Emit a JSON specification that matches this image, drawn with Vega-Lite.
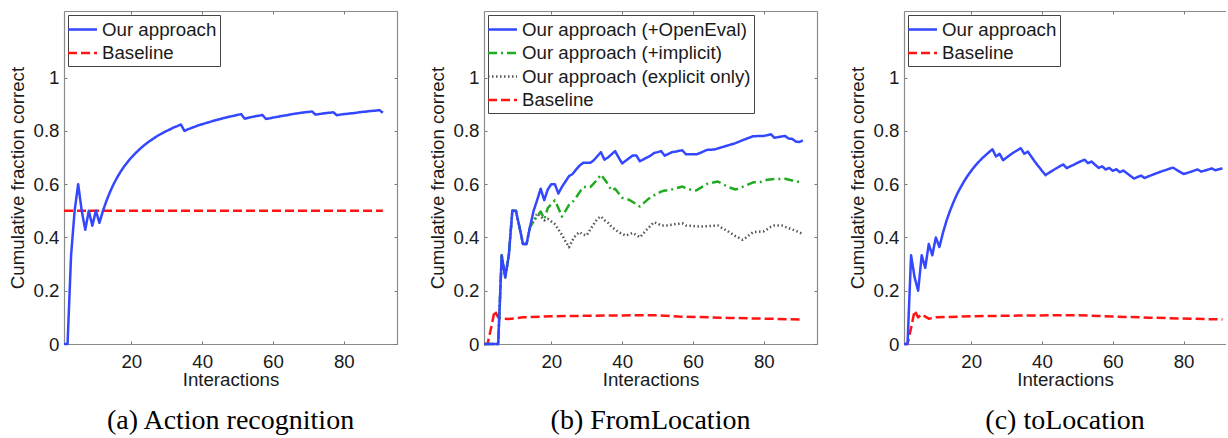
{
"$schema": "https://vega.github.io/schema/vega-lite/v6.json",
"background": "white",
"padding": {"left": 8, "top": 10, "right": 0, "bottom": 0},
"spacing": 30,
"resolve": {"scale": {"color": "independent", "strokeDash": "independent", "strokeWidth": "independent"}, "legend": {"color": "independent", "strokeDash": "independent", "strokeWidth": "independent"}},
"config": {
  "view": {"stroke": null},
  "axis": {"grid": false, "labelFont": "Liberation Sans", "labelFontSize": 18.7, "labelColor": "#1a1a1a", "titleFont": "Liberation Sans", "titleFontSize": 18.7, "titleFontWeight": "normal", "titleColor": "#1a1a1a", "tickSize": -3, "tickColor": "#777", "domainColor": "#8a8a8a", "domainWidth": 1.2, "labelFlush": false, "labelOverlap": false},
  "axisX": {"labelPadding": 11, "titlePadding": 0},
  "axisY": {"labelPadding": 8, "titlePadding": 6},
  "legend": {"orient": "top-left", "offset": 4, "strokeColor": "#444", "fillColor": "white", "padding": 3, "labelFont": "Liberation Sans", "labelFontSize": 18.7, "labelColor": "#1a1a1a", "symbolType": "M-1.45,0L1.45,0", "symbolSize": 400, "symbolStrokeWidth": 2.5, "symbolFillColor": "transparent", "rowPadding": 1.5, "labelLimit": 400, "labelOffset": 8, "cornerRadius": 0},
  "title": {"orient": "bottom", "font": "Liberation Serif", "fontSize": 28, "fontWeight": "normal", "color": "black", "offset": 18, "anchor": "middle"}
},
"datasets": {
"a": [
{"series":"Baseline","x":1,"y":0.5},{"series":"Baseline","x":91,"y":0.5},
{"series":"Our approach","x":1,"y":0},{"series":"Our approach","x":2,"y":0},{"series":"Our approach","x":3,"y":0.333},{"series":"Our approach","x":4,"y":0.5},{"series":"Our approach","x":5,"y":0.6},{"series":"Our approach","x":6,"y":0.5},{"series":"Our approach","x":7,"y":0.429},{"series":"Our approach","x":8,"y":0.5},{"series":"Our approach","x":9,"y":0.444},{"series":"Our approach","x":10,"y":0.5},{"series":"Our approach","x":11,"y":0.455},{"series":"Our approach","x":12,"y":0.5},{"series":"Our approach","x":13,"y":0.538},{"series":"Our approach","x":14,"y":0.571},{"series":"Our approach","x":15,"y":0.6},{"series":"Our approach","x":16,"y":0.625},{"series":"Our approach","x":17,"y":0.647},{"series":"Our approach","x":18,"y":0.667},{"series":"Our approach","x":19,"y":0.684},{"series":"Our approach","x":20,"y":0.7},{"series":"Our approach","x":21,"y":0.714},{"series":"Our approach","x":22,"y":0.727},{"series":"Our approach","x":23,"y":0.739},{"series":"Our approach","x":24,"y":0.75},{"series":"Our approach","x":25,"y":0.76},{"series":"Our approach","x":26,"y":0.769},{"series":"Our approach","x":27,"y":0.778},{"series":"Our approach","x":28,"y":0.786},{"series":"Our approach","x":29,"y":0.793},{"series":"Our approach","x":30,"y":0.8},{"series":"Our approach","x":31,"y":0.806},{"series":"Our approach","x":32,"y":0.813},{"series":"Our approach","x":33,"y":0.818},{"series":"Our approach","x":34,"y":0.824},{"series":"Our approach","x":35,"y":0.8},{"series":"Our approach","x":36,"y":0.806},{"series":"Our approach","x":37,"y":0.811},{"series":"Our approach","x":38,"y":0.816},{"series":"Our approach","x":39,"y":0.821},{"series":"Our approach","x":40,"y":0.825},{"series":"Our approach","x":41,"y":0.829},{"series":"Our approach","x":42,"y":0.833},{"series":"Our approach","x":43,"y":0.837},{"series":"Our approach","x":44,"y":0.841},{"series":"Our approach","x":45,"y":0.844},{"series":"Our approach","x":46,"y":0.848},{"series":"Our approach","x":47,"y":0.851},{"series":"Our approach","x":48,"y":0.854},{"series":"Our approach","x":49,"y":0.857},{"series":"Our approach","x":50,"y":0.86},{"series":"Our approach","x":51,"y":0.863},{"series":"Our approach","x":52,"y":0.846},{"series":"Our approach","x":53,"y":0.849},{"series":"Our approach","x":54,"y":0.852},{"series":"Our approach","x":55,"y":0.855},{"series":"Our approach","x":56,"y":0.857},{"series":"Our approach","x":57,"y":0.86},{"series":"Our approach","x":58,"y":0.845},{"series":"Our approach","x":59,"y":0.847},{"series":"Our approach","x":60,"y":0.85},{"series":"Our approach","x":61,"y":0.852},{"series":"Our approach","x":62,"y":0.855},{"series":"Our approach","x":63,"y":0.857},{"series":"Our approach","x":64,"y":0.859},{"series":"Our approach","x":65,"y":0.862},{"series":"Our approach","x":66,"y":0.864},{"series":"Our approach","x":67,"y":0.866},{"series":"Our approach","x":68,"y":0.868},{"series":"Our approach","x":69,"y":0.87},{"series":"Our approach","x":70,"y":0.871},{"series":"Our approach","x":71,"y":0.873},{"series":"Our approach","x":72,"y":0.861},{"series":"Our approach","x":73,"y":0.863},{"series":"Our approach","x":74,"y":0.865},{"series":"Our approach","x":75,"y":0.867},{"series":"Our approach","x":76,"y":0.868},{"series":"Our approach","x":77,"y":0.87},{"series":"Our approach","x":78,"y":0.859},{"series":"Our approach","x":79,"y":0.861},{"series":"Our approach","x":80,"y":0.863},{"series":"Our approach","x":81,"y":0.864},{"series":"Our approach","x":82,"y":0.866},{"series":"Our approach","x":83,"y":0.867},{"series":"Our approach","x":84,"y":0.869},{"series":"Our approach","x":85,"y":0.871},{"series":"Our approach","x":86,"y":0.872},{"series":"Our approach","x":87,"y":0.874},{"series":"Our approach","x":88,"y":0.875},{"series":"Our approach","x":89,"y":0.876},{"series":"Our approach","x":90,"y":0.878},{"series":"Our approach","x":91,"y":0.868}
],
"b": [
{"series":"Baseline","x":1,"y":0},{"series":"Baseline","x":2,"y":0},{"series":"Baseline","x":3,"y":0.06},{"series":"Baseline","x":4,"y":0.125},{"series":"Baseline","x":5,"y":0.1},{"series":"Baseline","x":6,"y":0.095},{"series":"Baseline","x":8,"y":0.094},{"series":"Baseline","x":12,"y":0.1},{"series":"Baseline","x":20,"y":0.104},{"series":"Baseline","x":35,"y":0.107},{"series":"Baseline","x":50,"y":0.108},{"series":"Baseline","x":56,"y":0.103},{"series":"Baseline","x":70,"y":0.098},{"series":"Baseline","x":91,"y":0.092},
{"series":"Our approach (explicit only)","x":1,"y":0},{"series":"Our approach (explicit only)","x":5,"y":0},{"series":"Our approach (explicit only)","x":6,"y":0.333},{"series":"Our approach (explicit only)","x":7,"y":0.25},{"series":"Our approach (explicit only)","x":8,"y":0.333},{"series":"Our approach (explicit only)","x":9,"y":0.5},{"series":"Our approach (explicit only)","x":10,"y":0.5},{"series":"Our approach (explicit only)","x":11,"y":0.44},{"series":"Our approach (explicit only)","x":12,"y":0.375},{"series":"Our approach (explicit only)","x":13,"y":0.375},{"series":"Our approach (explicit only)","x":14,"y":0.44},{"series":"Our approach (explicit only)","x":15,"y":0.46},{"series":"Our approach (explicit only)","x":16,"y":0.49},{"series":"Our approach (explicit only)","x":17,"y":0.48},{"series":"Our approach (explicit only)","x":18,"y":0.464},{"series":"Our approach (explicit only)","x":19,"y":0.47},{"series":"Our approach (explicit only)","x":20,"y":0.46},{"series":"Our approach (explicit only)","x":21,"y":0.45},{"series":"Our approach (explicit only)","x":22,"y":0.43},{"series":"Our approach (explicit only)","x":23,"y":0.41},{"series":"Our approach (explicit only)","x":24,"y":0.385},{"series":"Our approach (explicit only)","x":25,"y":0.363},{"series":"Our approach (explicit only)","x":26,"y":0.39},{"series":"Our approach (explicit only)","x":27,"y":0.41},{"series":"Our approach (explicit only)","x":28,"y":0.42},{"series":"Our approach (explicit only)","x":29,"y":0.41},{"series":"Our approach (explicit only)","x":30,"y":0.408},{"series":"Our approach (explicit only)","x":31,"y":0.43},{"series":"Our approach (explicit only)","x":32,"y":0.45},{"series":"Our approach (explicit only)","x":33,"y":0.47},{"series":"Our approach (explicit only)","x":34,"y":0.479},{"series":"Our approach (explicit only)","x":35,"y":0.465},{"series":"Our approach (explicit only)","x":36,"y":0.455},{"series":"Our approach (explicit only)","x":37,"y":0.44},{"series":"Our approach (explicit only)","x":38,"y":0.43},{"series":"Our approach (explicit only)","x":39,"y":0.42},{"series":"Our approach (explicit only)","x":41,"y":0.407},{"series":"Our approach (explicit only)","x":43,"y":0.417},{"series":"Our approach (explicit only)","x":45,"y":0.401},{"series":"Our approach (explicit only)","x":46,"y":0.415},{"series":"Our approach (explicit only)","x":47,"y":0.43},{"series":"Our approach (explicit only)","x":48,"y":0.444},{"series":"Our approach (explicit only)","x":49,"y":0.457},{"series":"Our approach (explicit only)","x":50,"y":0.452},{"series":"Our approach (explicit only)","x":51,"y":0.445},{"series":"Our approach (explicit only)","x":53,"y":0.445},{"series":"Our approach (explicit only)","x":55,"y":0.45},{"series":"Our approach (explicit only)","x":57,"y":0.453},{"series":"Our approach (explicit only)","x":58,"y":0.445},{"series":"Our approach (explicit only)","x":60,"y":0.443},{"series":"Our approach (explicit only)","x":62,"y":0.441},{"series":"Our approach (explicit only)","x":64,"y":0.442},{"series":"Our approach (explicit only)","x":67,"y":0.445},{"series":"Our approach (explicit only)","x":68,"y":0.437},{"series":"Our approach (explicit only)","x":70,"y":0.422},{"series":"Our approach (explicit only)","x":72,"y":0.405},{"series":"Our approach (explicit only)","x":74,"y":0.391},{"series":"Our approach (explicit only)","x":75,"y":0.4},{"series":"Our approach (explicit only)","x":77,"y":0.42},{"series":"Our approach (explicit only)","x":80,"y":0.423},{"series":"Our approach (explicit only)","x":82,"y":0.44},{"series":"Our approach (explicit only)","x":83,"y":0.445},{"series":"Our approach (explicit only)","x":85,"y":0.445},{"series":"Our approach (explicit only)","x":87,"y":0.435},{"series":"Our approach (explicit only)","x":89,"y":0.425},{"series":"Our approach (explicit only)","x":91,"y":0.413},
{"series":"Our approach (+implicit)","x":1,"y":0},{"series":"Our approach (+implicit)","x":5,"y":0},{"series":"Our approach (+implicit)","x":6,"y":0.333},{"series":"Our approach (+implicit)","x":7,"y":0.25},{"series":"Our approach (+implicit)","x":8,"y":0.333},{"series":"Our approach (+implicit)","x":9,"y":0.5},{"series":"Our approach (+implicit)","x":10,"y":0.5},{"series":"Our approach (+implicit)","x":11,"y":0.44},{"series":"Our approach (+implicit)","x":12,"y":0.375},{"series":"Our approach (+implicit)","x":13,"y":0.375},{"series":"Our approach (+implicit)","x":14,"y":0.44},{"series":"Our approach (+implicit)","x":15,"y":0.46},{"series":"Our approach (+implicit)","x":16,"y":0.48},{"series":"Our approach (+implicit)","x":17,"y":0.497},{"series":"Our approach (+implicit)","x":18,"y":0.469},{"series":"Our approach (+implicit)","x":19,"y":0.51},{"series":"Our approach (+implicit)","x":20,"y":0.525},{"series":"Our approach (+implicit)","x":21,"y":0.539},{"series":"Our approach (+implicit)","x":22,"y":0.51},{"series":"Our approach (+implicit)","x":23,"y":0.478},{"series":"Our approach (+implicit)","x":24,"y":0.5},{"series":"Our approach (+implicit)","x":25,"y":0.522},{"series":"Our approach (+implicit)","x":26,"y":0.533},{"series":"Our approach (+implicit)","x":27,"y":0.55},{"series":"Our approach (+implicit)","x":28,"y":0.57},{"series":"Our approach (+implicit)","x":29,"y":0.589},{"series":"Our approach (+implicit)","x":31,"y":0.589},{"series":"Our approach (+implicit)","x":32,"y":0.603},{"series":"Our approach (+implicit)","x":33,"y":0.618},{"series":"Our approach (+implicit)","x":34,"y":0.636},{"series":"Our approach (+implicit)","x":35,"y":0.618},{"series":"Our approach (+implicit)","x":36,"y":0.6},{"series":"Our approach (+implicit)","x":37,"y":0.576},{"series":"Our approach (+implicit)","x":38,"y":0.583},{"series":"Our approach (+implicit)","x":39,"y":0.566},{"series":"Our approach (+implicit)","x":40,"y":0.549},{"series":"Our approach (+implicit)","x":41,"y":0.545},{"series":"Our approach (+implicit)","x":42,"y":0.541},{"series":"Our approach (+implicit)","x":43,"y":0.533},{"series":"Our approach (+implicit)","x":44,"y":0.525},{"series":"Our approach (+implicit)","x":45,"y":0.516},{"series":"Our approach (+implicit)","x":46,"y":0.528},{"series":"Our approach (+implicit)","x":47,"y":0.54},{"series":"Our approach (+implicit)","x":48,"y":0.551},{"series":"Our approach (+implicit)","x":49,"y":0.558},{"series":"Our approach (+implicit)","x":50,"y":0.565},{"series":"Our approach (+implicit)","x":51,"y":0.572},{"series":"Our approach (+implicit)","x":52,"y":0.576},{"series":"Our approach (+implicit)","x":53,"y":0.576},{"series":"Our approach (+implicit)","x":55,"y":0.584},{"series":"Our approach (+implicit)","x":57,"y":0.591},{"series":"Our approach (+implicit)","x":58,"y":0.585},{"series":"Our approach (+implicit)","x":60,"y":0.576},{"series":"Our approach (+implicit)","x":61,"y":0.577},{"series":"Our approach (+implicit)","x":62,"y":0.585},{"series":"Our approach (+implicit)","x":63,"y":0.593},{"series":"Our approach (+implicit)","x":64,"y":0.601},{"series":"Our approach (+implicit)","x":66,"y":0.607},{"series":"Our approach (+implicit)","x":67,"y":0.61},{"series":"Our approach (+implicit)","x":68,"y":0.603},{"series":"Our approach (+implicit)","x":70,"y":0.589},{"series":"Our approach (+implicit)","x":72,"y":0.58},{"series":"Our approach (+implicit)","x":74,"y":0.59},{"series":"Our approach (+implicit)","x":77,"y":0.607},{"series":"Our approach (+implicit)","x":79,"y":0.608},{"series":"Our approach (+implicit)","x":81,"y":0.617},{"series":"Our approach (+implicit)","x":83,"y":0.619},{"series":"Our approach (+implicit)","x":86,"y":0.62},{"series":"Our approach (+implicit)","x":88,"y":0.614},{"series":"Our approach (+implicit)","x":91,"y":0.605},
{"series":"Our approach (+OpenEval)","x":1,"y":0},{"series":"Our approach (+OpenEval)","x":5,"y":0},{"series":"Our approach (+OpenEval)","x":6,"y":0.333},{"series":"Our approach (+OpenEval)","x":7,"y":0.25},{"series":"Our approach (+OpenEval)","x":8,"y":0.333},{"series":"Our approach (+OpenEval)","x":9,"y":0.5},{"series":"Our approach (+OpenEval)","x":10,"y":0.5},{"series":"Our approach (+OpenEval)","x":11,"y":0.44},{"series":"Our approach (+OpenEval)","x":12,"y":0.375},{"series":"Our approach (+OpenEval)","x":13,"y":0.375},{"series":"Our approach (+OpenEval)","x":14,"y":0.44},{"series":"Our approach (+OpenEval)","x":15,"y":0.5},{"series":"Our approach (+OpenEval)","x":16,"y":0.54},{"series":"Our approach (+OpenEval)","x":17,"y":0.583},{"series":"Our approach (+OpenEval)","x":18,"y":0.54},{"series":"Our approach (+OpenEval)","x":19,"y":0.58},{"series":"Our approach (+OpenEval)","x":20,"y":0.6},{"series":"Our approach (+OpenEval)","x":21,"y":0.6},{"series":"Our approach (+OpenEval)","x":22,"y":0.565},{"series":"Our approach (+OpenEval)","x":23,"y":0.59},{"series":"Our approach (+OpenEval)","x":24,"y":0.61},{"series":"Our approach (+OpenEval)","x":25,"y":0.63},{"series":"Our approach (+OpenEval)","x":26,"y":0.638},{"series":"Our approach (+OpenEval)","x":27,"y":0.655},{"series":"Our approach (+OpenEval)","x":28,"y":0.67},{"series":"Our approach (+OpenEval)","x":29,"y":0.68},{"series":"Our approach (+OpenEval)","x":31,"y":0.68},{"series":"Our approach (+OpenEval)","x":32,"y":0.69},{"series":"Our approach (+OpenEval)","x":33,"y":0.705},{"series":"Our approach (+OpenEval)","x":34,"y":0.72},{"series":"Our approach (+OpenEval)","x":35,"y":0.692},{"series":"Our approach (+OpenEval)","x":36,"y":0.7},{"series":"Our approach (+OpenEval)","x":37,"y":0.712},{"series":"Our approach (+OpenEval)","x":38,"y":0.724},{"series":"Our approach (+OpenEval)","x":39,"y":0.7},{"series":"Our approach (+OpenEval)","x":40,"y":0.678},{"series":"Our approach (+OpenEval)","x":41,"y":0.688},{"series":"Our approach (+OpenEval)","x":42,"y":0.698},{"series":"Our approach (+OpenEval)","x":43,"y":0.708},{"series":"Our approach (+OpenEval)","x":44,"y":0.708},{"series":"Our approach (+OpenEval)","x":45,"y":0.686},{"series":"Our approach (+OpenEval)","x":46,"y":0.693},{"series":"Our approach (+OpenEval)","x":47,"y":0.7},{"series":"Our approach (+OpenEval)","x":48,"y":0.707},{"series":"Our approach (+OpenEval)","x":49,"y":0.717},{"series":"Our approach (+OpenEval)","x":50,"y":0.72},{"series":"Our approach (+OpenEval)","x":51,"y":0.724},{"series":"Our approach (+OpenEval)","x":52,"y":0.707},{"series":"Our approach (+OpenEval)","x":53,"y":0.713},{"series":"Our approach (+OpenEval)","x":54,"y":0.72},{"series":"Our approach (+OpenEval)","x":55,"y":0.722},{"series":"Our approach (+OpenEval)","x":56,"y":0.725},{"series":"Our approach (+OpenEval)","x":57,"y":0.727},{"series":"Our approach (+OpenEval)","x":58,"y":0.712},{"series":"Our approach (+OpenEval)","x":61,"y":0.712},{"series":"Our approach (+OpenEval)","x":62,"y":0.717},{"series":"Our approach (+OpenEval)","x":63,"y":0.723},{"series":"Our approach (+OpenEval)","x":64,"y":0.729},{"series":"Our approach (+OpenEval)","x":66,"y":0.73},{"series":"Our approach (+OpenEval)","x":68,"y":0.738},{"series":"Our approach (+OpenEval)","x":70,"y":0.746},{"series":"Our approach (+OpenEval)","x":72,"y":0.754},{"series":"Our approach (+OpenEval)","x":74,"y":0.765},{"series":"Our approach (+OpenEval)","x":76,"y":0.775},{"series":"Our approach (+OpenEval)","x":77,"y":0.78},{"series":"Our approach (+OpenEval)","x":80,"y":0.781},{"series":"Our approach (+OpenEval)","x":82,"y":0.787},{"series":"Our approach (+OpenEval)","x":83,"y":0.774},{"series":"Our approach (+OpenEval)","x":85,"y":0.779},{"series":"Our approach (+OpenEval)","x":86,"y":0.781},{"series":"Our approach (+OpenEval)","x":87,"y":0.771},{"series":"Our approach (+OpenEval)","x":88,"y":0.77},{"series":"Our approach (+OpenEval)","x":89,"y":0.76},{"series":"Our approach (+OpenEval)","x":90,"y":0.758},{"series":"Our approach (+OpenEval)","x":91,"y":0.764}
],
"c": [
{"series":"Baseline","x":1,"y":0},{"series":"Baseline","x":2,"y":0},{"series":"Baseline","x":3,"y":0.06},{"series":"Baseline","x":4,"y":0.125},{"series":"Baseline","x":5,"y":0.1},{"series":"Baseline","x":6,"y":0.111},{"series":"Baseline","x":8,"y":0.095},{"series":"Baseline","x":10,"y":0.1},{"series":"Baseline","x":20,"y":0.104},{"series":"Baseline","x":35,"y":0.107},{"series":"Baseline","x":50,"y":0.108},{"series":"Baseline","x":56,"y":0.105},{"series":"Baseline","x":70,"y":0.099},{"series":"Baseline","x":91,"y":0.092},
{"series":"Our approach","x":1,"y":0},{"series":"Our approach","x":2,"y":0},{"series":"Our approach","x":3,"y":0.333},{"series":"Our approach","x":4,"y":0.25},{"series":"Our approach","x":5,"y":0.2},{"series":"Our approach","x":6,"y":0.333},{"series":"Our approach","x":7,"y":0.286},{"series":"Our approach","x":8,"y":0.375},{"series":"Our approach","x":9,"y":0.333},{"series":"Our approach","x":10,"y":0.4},{"series":"Our approach","x":11,"y":0.364},{"series":"Our approach","x":12,"y":0.417},{"series":"Our approach","x":13,"y":0.462},{"series":"Our approach","x":14,"y":0.5},{"series":"Our approach","x":15,"y":0.533},{"series":"Our approach","x":16,"y":0.563},{"series":"Our approach","x":17,"y":0.588},{"series":"Our approach","x":18,"y":0.611},{"series":"Our approach","x":19,"y":0.632},{"series":"Our approach","x":20,"y":0.65},{"series":"Our approach","x":21,"y":0.667},{"series":"Our approach","x":22,"y":0.682},{"series":"Our approach","x":23,"y":0.696},{"series":"Our approach","x":24,"y":0.708},{"series":"Our approach","x":25,"y":0.72},{"series":"Our approach","x":26,"y":0.731},{"series":"Our approach","x":27,"y":0.704},{"series":"Our approach","x":28,"y":0.714},{"series":"Our approach","x":29,"y":0.69},{"series":"Our approach","x":30,"y":0.7},{"series":"Our approach","x":31,"y":0.71},{"series":"Our approach","x":32,"y":0.719},{"series":"Our approach","x":33,"y":0.727},{"series":"Our approach","x":34,"y":0.735},{"series":"Our approach","x":35,"y":0.714},{"series":"Our approach","x":36,"y":0.722},{"series":"Our approach","x":37,"y":0.703},{"series":"Our approach","x":38,"y":0.684},{"series":"Our approach","x":39,"y":0.667},{"series":"Our approach","x":40,"y":0.65},{"series":"Our approach","x":41,"y":0.634},{"series":"Our approach","x":42,"y":0.643},{"series":"Our approach","x":43,"y":0.651},{"series":"Our approach","x":44,"y":0.659},{"series":"Our approach","x":45,"y":0.667},{"series":"Our approach","x":46,"y":0.674},{"series":"Our approach","x":47,"y":0.66},{"series":"Our approach","x":48,"y":0.667},{"series":"Our approach","x":49,"y":0.673},{"series":"Our approach","x":50,"y":0.68},{"series":"Our approach","x":51,"y":0.686},{"series":"Our approach","x":52,"y":0.692},{"series":"Our approach","x":53,"y":0.679},{"series":"Our approach","x":54,"y":0.685},{"series":"Our approach","x":55,"y":0.673},{"series":"Our approach","x":56,"y":0.661},{"series":"Our approach","x":57,"y":0.667},{"series":"Our approach","x":58,"y":0.655},{"series":"Our approach","x":59,"y":0.661},{"series":"Our approach","x":60,"y":0.65},{"series":"Our approach","x":61,"y":0.656},{"series":"Our approach","x":62,"y":0.645},{"series":"Our approach","x":63,"y":0.651},{"series":"Our approach","x":64,"y":0.641},{"series":"Our approach","x":65,"y":0.631},{"series":"Our approach","x":66,"y":0.621},{"series":"Our approach","x":67,"y":0.627},{"series":"Our approach","x":68,"y":0.632},{"series":"Our approach","x":69,"y":0.623},{"series":"Our approach","x":70,"y":0.629},{"series":"Our approach","x":71,"y":0.634},{"series":"Our approach","x":72,"y":0.639},{"series":"Our approach","x":73,"y":0.644},{"series":"Our approach","x":74,"y":0.649},{"series":"Our approach","x":75,"y":0.653},{"series":"Our approach","x":76,"y":0.658},{"series":"Our approach","x":77,"y":0.662},{"series":"Our approach","x":78,"y":0.654},{"series":"Our approach","x":79,"y":0.646},{"series":"Our approach","x":80,"y":0.638},{"series":"Our approach","x":81,"y":0.642},{"series":"Our approach","x":82,"y":0.646},{"series":"Our approach","x":83,"y":0.651},{"series":"Our approach","x":84,"y":0.655},{"series":"Our approach","x":85,"y":0.647},{"series":"Our approach","x":86,"y":0.651},{"series":"Our approach","x":87,"y":0.655},{"series":"Our approach","x":88,"y":0.659},{"series":"Our approach","x":89,"y":0.652},{"series":"Our approach","x":90,"y":0.656},{"series":"Our approach","x":91,"y":0.659}
]
},
"hconcat": [
{
 "width": 333, "height": 333,
 "data": {"name": "a"},
 "title": {"text": "(a) Action recognition"},
 "layer": [
  {"mark": {"type": "line", "strokeWidth": 2.5, "strokeJoin": "round"},
   "encoding": {
    "x": {"field": "x", "type": "quantitative", "scale": {"domain": [1, 95], "nice": false, "zero": false}, "axis": {"values": [20, 40, 60, 80], "title": "Interactions"}},
    "y": {"field": "y", "type": "quantitative", "scale": {"domain": [0, 1.25], "nice": false}, "axis": {"values": [0, 0.2, 0.4, 0.6, 0.8, 1], "format": "~g", "title": "Cumulative fraction correct"}},
    "color": {"field": "series", "type": "nominal", "scale": {"domain": ["Our approach", "Baseline"], "range": ["#3347ff", "#ff1414"]}, "legend": {"title": null}},
    "strokeDash": {"field": "series", "type": "nominal", "scale": {"domain": ["Our approach", "Baseline"], "range": [[1, 0], [9, 4]]}, "legend": {"title": null}}
   }},
  {"mark": {"type": "point", "opacity": 0},
   "encoding": {
    "x": {"field": "x", "type": "quantitative", "scale": {"domain": [1, 95], "nice": false, "zero": false}, "axis": {"orient": "top", "values": [20, 40, 60, 80], "labels": false, "title": null}},
    "y": {"field": "y", "type": "quantitative", "scale": {"domain": [0, 1.25], "nice": false}, "axis": {"orient": "right", "values": [0, 0.2, 0.4, 0.6, 0.8, 1], "labels": false, "title": null}}
   }}
 ],
 "resolve": {"axis": {"x": "independent", "y": "independent"}}
},
{
 "width": 333, "height": 333,
 "data": {"name": "b"},
 "title": {"text": "(b) FromLocation"},
 "layer": [
  {"mark": {"type": "line", "strokeJoin": "round"},
   "encoding": {
    "x": {"field": "x", "type": "quantitative", "scale": {"domain": [1, 95], "nice": false, "zero": false}, "axis": {"values": [20, 40, 60, 80], "title": "Interactions"}},
    "y": {"field": "y", "type": "quantitative", "scale": {"domain": [0, 1.25], "nice": false}, "axis": {"values": [0, 0.2, 0.4, 0.6, 0.8, 1], "format": "~g", "title": "Cumulative fraction correct"}},
    "color": {"field": "series", "type": "nominal", "scale": {"domain": ["Our approach (+OpenEval)", "Our approach (+implicit)", "Our approach (explicit only)", "Baseline"], "range": ["#3347ff", "#1faa1f", "#555555", "#ff1414"]}, "legend": {"title": null}},
    "strokeDash": {"field": "series", "type": "nominal", "scale": {"domain": ["Our approach (+OpenEval)", "Our approach (+implicit)", "Our approach (explicit only)", "Baseline"], "range": [[1, 0], [9, 4, 2, 4], [1.5, 2.5], [9, 4]]}, "legend": {"title": null}},
    "strokeWidth": {"field": "series", "type": "nominal", "scale": {"domain": ["Our approach (+OpenEval)", "Our approach (+implicit)", "Our approach (explicit only)", "Baseline"], "range": [2.5, 2.5, 1.6, 2.5]}, "legend": {"title": null}}
   }},
  {"mark": {"type": "point", "opacity": 0},
   "encoding": {
    "x": {"field": "x", "type": "quantitative", "scale": {"domain": [1, 95], "nice": false, "zero": false}, "axis": {"orient": "top", "values": [20, 40, 60, 80], "labels": false, "title": null}},
    "y": {"field": "y", "type": "quantitative", "scale": {"domain": [0, 1.25], "nice": false}, "axis": {"orient": "right", "values": [0, 0.2, 0.4, 0.6, 0.8, 1], "labels": false, "title": null}}
   }}
 ],
 "resolve": {"axis": {"x": "independent", "y": "independent"}}
},
{
 "width": 322, "height": 333,
 "data": {"name": "c"},
 "title": {"text": "(c) toLocation"},
 "layer": [
  {"mark": {"type": "line", "strokeWidth": 2.5, "strokeJoin": "round"},
   "encoding": {
    "x": {"field": "x", "type": "quantitative", "scale": {"domain": [1, 92], "nice": false, "zero": false}, "axis": {"values": [20, 40, 60, 80], "title": "Interactions"}},
    "y": {"field": "y", "type": "quantitative", "scale": {"domain": [0, 1.25], "nice": false}, "axis": {"values": [0, 0.2, 0.4, 0.6, 0.8, 1], "format": "~g", "title": "Cumulative fraction correct"}},
    "color": {"field": "series", "type": "nominal", "scale": {"domain": ["Our approach", "Baseline"], "range": ["#3347ff", "#ff1414"]}, "legend": {"title": null}},
    "strokeDash": {"field": "series", "type": "nominal", "scale": {"domain": ["Our approach", "Baseline"], "range": [[1, 0], [9, 4]]}, "legend": {"title": null}}
   }},
  {"mark": {"type": "point", "opacity": 0},
   "encoding": {
    "x": {"field": "x", "type": "quantitative", "scale": {"domain": [1, 92], "nice": false, "zero": false}, "axis": {"orient": "top", "values": [20, 40, 60, 80], "labels": false, "title": null}},
    "y": {"field": "y", "type": "quantitative", "scale": {"domain": [0, 1.25], "nice": false}, "axis": {"orient": "right", "domain": false, "ticks": false, "labels": false, "title": null}}
   }}
 ],
 "resolve": {"axis": {"x": "independent", "y": "independent"}}
}
]
}
